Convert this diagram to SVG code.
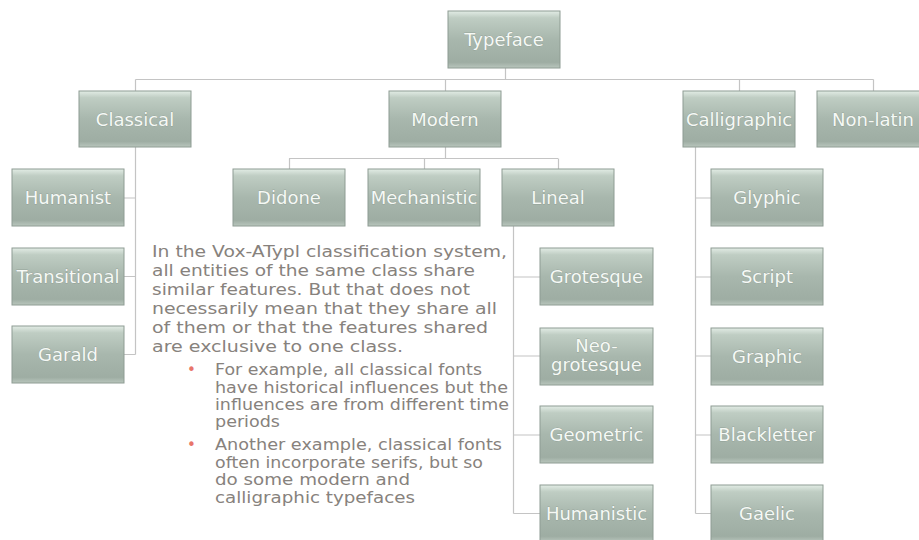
<svg xmlns="http://www.w3.org/2000/svg" width="919" height="540" viewBox="0 0 919 540">
<defs>
<linearGradient id="g" x1="0" y1="0" x2="0" y2="1">
<stop offset="0" stop-color="#e2ece5"/>
<stop offset="0.12" stop-color="#bfcdc3"/>
<stop offset="0.5" stop-color="#a8b7ad"/>
<stop offset="0.9" stop-color="#9eada3"/>
<stop offset="1" stop-color="#b9c6bd"/>
</linearGradient>
</defs>
<style>
.n rect{fill:url(#g);stroke:#8e9c93;stroke-width:1}
.n text{font-family:"DejaVu Sans",sans-serif;font-size:18px;fill:#f5f9f5;text-anchor:middle;stroke:#7d8a82;stroke-width:0.4;paint-order:stroke}
.c path{fill:none;stroke:#c4c4c4;stroke-width:1.2}
.t{font-family:"DejaVu Sans",sans-serif;font-size:15px;fill:#87827d}
.b{font-family:"DejaVu Sans",sans-serif;font-size:15px;fill:#e8756a}
</style>
<rect width="919" height="540" fill="#ffffff"/>
<g class="c" id="connectors">
<path d="M505.5 68V79.5M135.5 79.5H873.5M135.5 79.5V91M445.5 79.5V91M739.5 79.5V91M873.5 79.5V91"/>
<path d="M135.5 147V354.5M124 198H135.5M124 276.5H135.5M124 354.5H135.5"/>
<path d="M445.5 147V158.5M289 158.5H558M289.5 158.5V169M424.5 158.5V169M558.5 158.5V169"/>
<path d="M513.5 226V513.5M513.5 277H540M513.5 356H540M513.5 435H540M513.5 513.5H540"/>
<path d="M695.5 147V513.5M695.5 198H711M695.5 277H711M695.5 356H711M695.5 435H711M695.5 513.5H711"/>
</g>
<g class="n" id="typeface"><rect x="448" y="11" width="112" height="57"/><text x="504" y="46">Typeface</text></g>
<g class="n" id="classical"><rect x="79" y="91" width="112" height="56"/><text x="135" y="125.5">Classical</text></g>
<g class="n" id="modern"><rect x="389" y="91" width="112" height="56"/><text x="445" y="125.5">Modern</text></g>
<g class="n" id="calligraphic"><rect x="683" y="91" width="112" height="56"/><text x="739" y="125.5">Calligraphic</text></g>
<g class="n" id="nonlatin"><rect x="817" y="91" width="112" height="56"/><text x="873" y="125.5">Non-latin</text></g>
<g class="n" id="humanist"><rect x="12" y="169" width="112" height="57"/><text x="68" y="204">Humanist</text></g>
<g class="n" id="transitional"><rect x="12" y="248" width="112" height="57"/><text x="68" y="283">Transitional</text></g>
<g class="n" id="garald"><rect x="12" y="326" width="112" height="57"/><text x="68" y="361">Garald</text></g>
<g class="n" id="didone"><rect x="233" y="169" width="112" height="57"/><text x="289" y="204">Didone</text></g>
<g class="n" id="mechanistic"><rect x="368" y="169" width="112" height="57"/><text x="424" y="204">Mechanistic</text></g>
<g class="n" id="lineal"><rect x="502" y="169" width="112" height="57"/><text x="558" y="204">Lineal</text></g>
<g class="n" id="grotesque"><rect x="540" y="248" width="113" height="57"/><text x="596.5" y="283">Grotesque</text></g>
<g class="n" id="neogrotesque"><rect x="540" y="328" width="113" height="57"/><text x="596.5" y="352">Neo-</text><text x="596.5" y="371">grotesque</text></g>
<g class="n" id="geometric"><rect x="540" y="406" width="113" height="57"/><text x="596.5" y="441">Geometric</text></g>
<g class="n" id="humanistic"><rect x="540" y="485" width="113" height="57"/><text x="596.5" y="520">Humanistic</text></g>
<g class="n" id="glyphic"><rect x="711" y="169" width="112" height="57"/><text x="767" y="204">Glyphic</text></g>
<g class="n" id="script"><rect x="711" y="248" width="112" height="57"/><text x="767" y="283">Script</text></g>
<g class="n" id="graphic"><rect x="711" y="328" width="112" height="57"/><text x="767" y="363">Graphic</text></g>
<g class="n" id="blackletter"><rect x="711" y="406" width="112" height="57"/><text x="767" y="441">Blackletter</text></g>
<g class="n" id="gaelic"><rect x="711" y="485" width="112" height="57"/><text x="767" y="520">Gaelic</text></g>
<g id="note">
<text class="t" x="152" y="257" textLength="355" lengthAdjust="spacingAndGlyphs">In the Vox-ATypl classification system,</text>
<text class="t" x="152" y="276" textLength="323" lengthAdjust="spacingAndGlyphs">all entities of the same class share</text>
<text class="t" x="152" y="295" textLength="318" lengthAdjust="spacingAndGlyphs">similar features. But that does not</text>
<text class="t" x="152" y="314" textLength="345" lengthAdjust="spacingAndGlyphs">necessarily mean that they share all</text>
<text class="t" x="152" y="333" textLength="336" lengthAdjust="spacingAndGlyphs">of them or that the features shared</text>
<text class="t" x="152" y="352" textLength="251" lengthAdjust="spacingAndGlyphs">are exclusive to one class.</text>
<text class="b" x="187" y="375">•</text>
<text class="t" x="215" y="375" textLength="267" lengthAdjust="spacingAndGlyphs">For example, all classical fonts</text>
<text class="t" x="215" y="393" textLength="293" lengthAdjust="spacingAndGlyphs">have historical influences but the</text>
<text class="t" x="215" y="410" textLength="294" lengthAdjust="spacingAndGlyphs">influences are from different time</text>
<text class="t" x="215" y="427" textLength="65" lengthAdjust="spacingAndGlyphs">periods</text>
<text class="b" x="187" y="450">•</text>
<text class="t" x="215" y="450" textLength="287" lengthAdjust="spacingAndGlyphs">Another example, classical fonts</text>
<text class="t" x="215" y="468" textLength="268" lengthAdjust="spacingAndGlyphs">often incorporate serifs, but so</text>
<text class="t" x="215" y="485" textLength="195" lengthAdjust="spacingAndGlyphs">do some modern and</text>
<text class="t" x="215" y="503" textLength="200" lengthAdjust="spacingAndGlyphs">calligraphic typefaces</text>
</g>
</svg>
